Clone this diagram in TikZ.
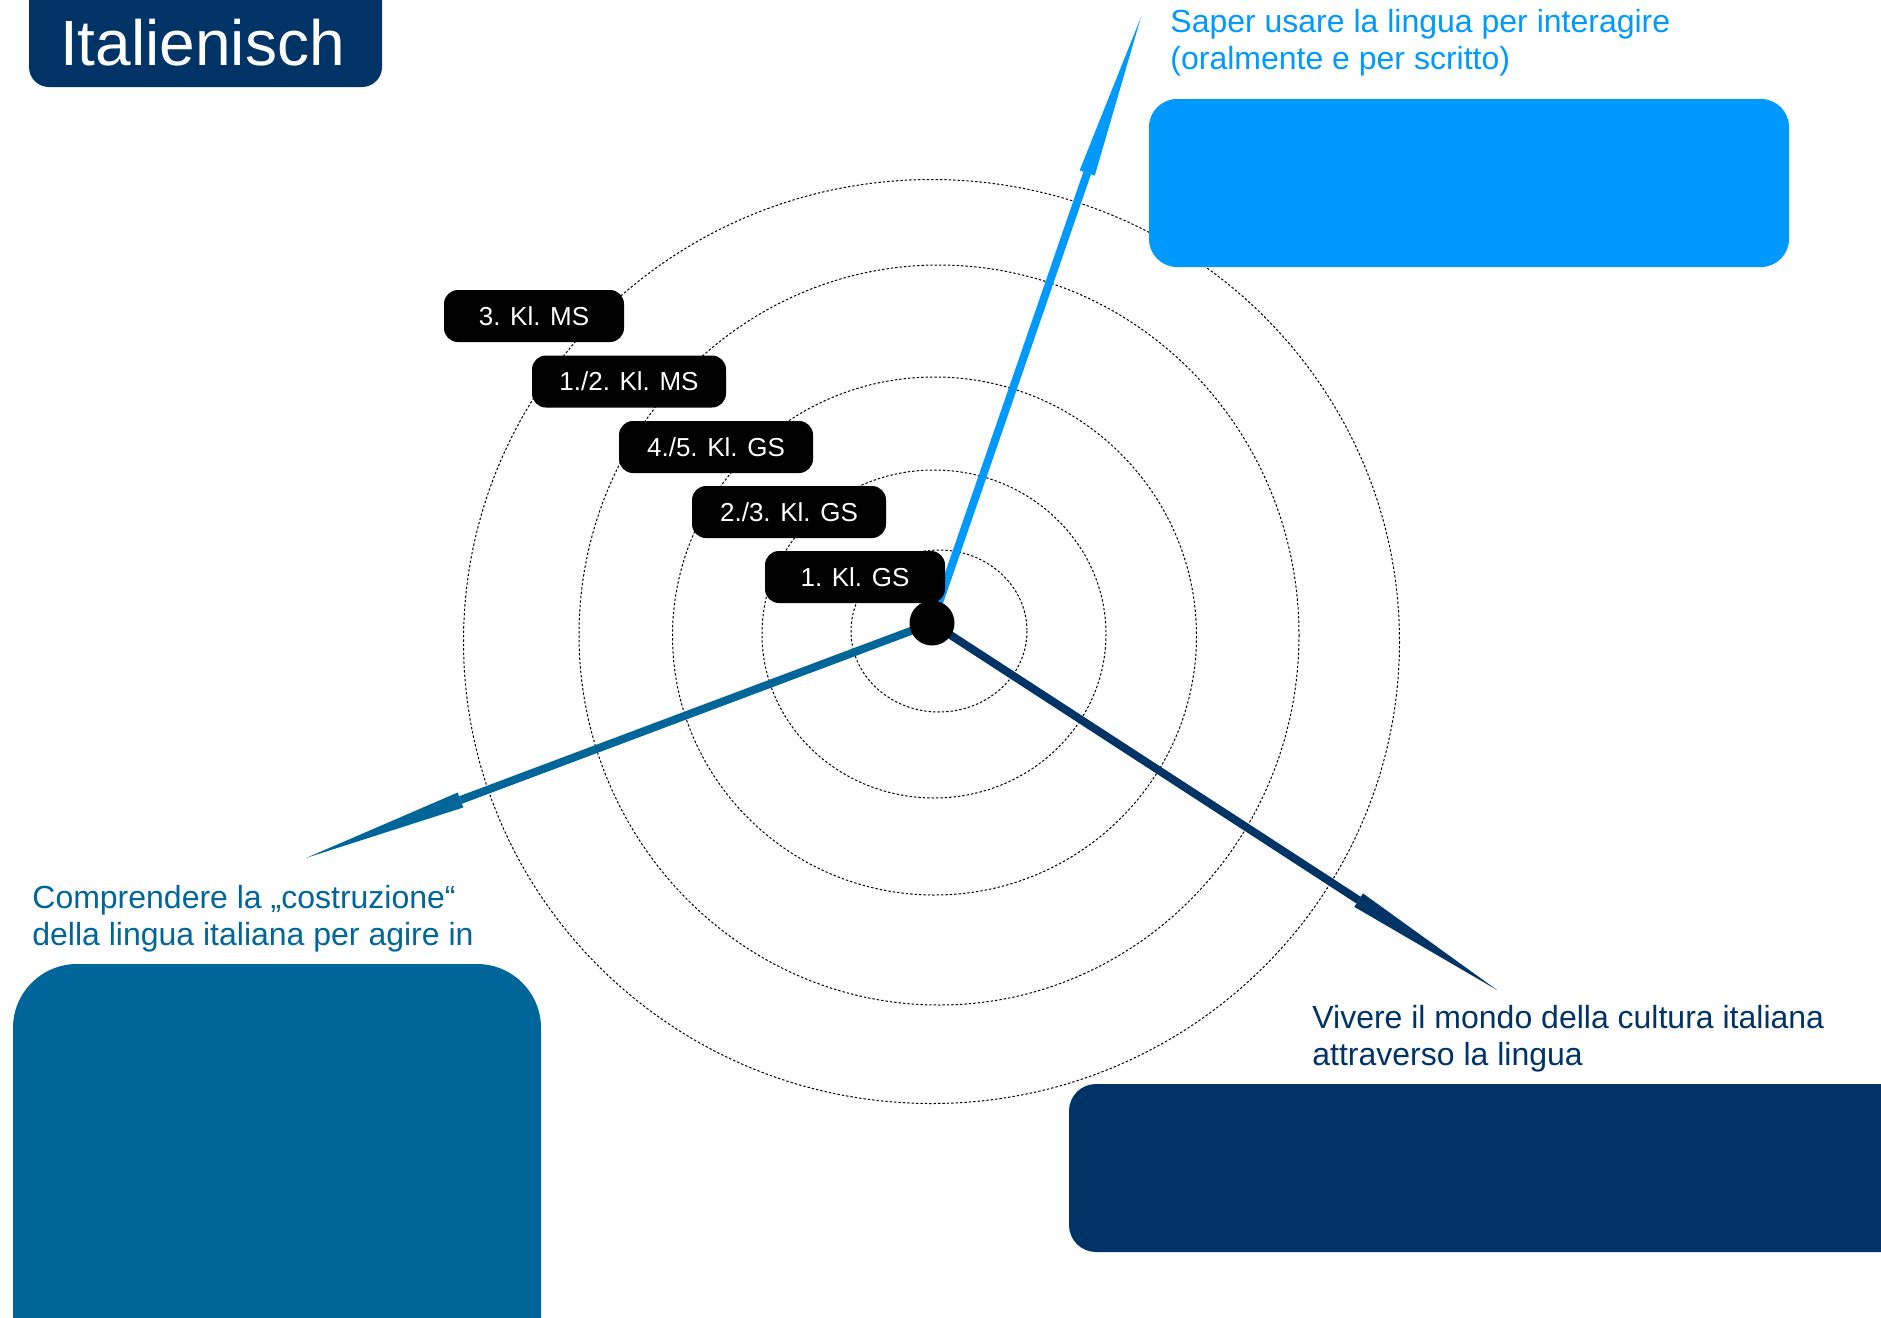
\documentclass[tikz,border=0pt]{standalone}
\usepackage{fontspec}
\setmainfont{Liberation Sans}
\usetikzlibrary{calc}
\definecolor{lblue}{HTML}{0099FF}
\definecolor{tealb}{HTML}{006699}
\definecolor{navyb}{HTML}{003366}
\begin{document}
\begin{tikzpicture}[x=0.5pt,y=-0.5pt,
  ring/.style={draw=black, line width=0.5pt, dash pattern=on 1.2pt off 1pt},
  panel/.style={rectangle, inner sep=0pt},
  level/.style={rectangle, fill=black, text=white, rounded corners=7pt,
    minimum height=26pt, inner sep=0pt, text depth=0pt,
    font=\fontsize{13}{15}\selectfont},
  lbl/.style={inner sep=0pt, align=left, anchor=base west,
    font=\fontsize{16}{18.5}\selectfont},
  shaft/.style={line width=4pt}
]
\useasboundingbox (0,0) rectangle (1881,1318);
\clip (0,0) rectangle (1881,1318);

% concentric rings
\draw[ring] (939,631) ellipse [x radius=88, y radius=81];
\draw[ring] (934,634) ellipse [x radius=172, y radius=164];
\draw[ring] (934.5,636) ellipse [x radius=262, y radius=259];
\draw[ring] (939,635) ellipse [x radius=360, y radius=370];
\draw[ring] (931.5,641.5) ellipse [x radius=468, y radius=462];

% title
\node[panel, fill=navyb, rounded corners=10pt, minimum width=176.5pt, minimum height=63.5pt] (titlebox) at (205.5,23.5) {};
\node[inner sep=0pt, anchor=base, text=white, font=\fontsize{32}{38}\selectfont] (title) at (202.5,65) {Italienisch};

% panels
\node[panel, fill=lblue, rounded corners=14pt, minimum width=320pt, minimum height=84pt] (boxA) at (1469,183) {};
\node[panel, fill=tealb, rounded corners=32pt, minimum width=264pt, minimum height=218pt] (boxB) at (277,1182) {};
\node[panel, fill=navyb, rounded corners=13.5pt, minimum width=440.5pt, minimum height=84pt] (boxC) at (1509.5,1168) {};

% labels (anchor = baseline of the last line)
\node[lbl, text=lblue] (txtA) at (1170,69) {Saper usare la lingua per interagire\\(oralmente e per scritto)};
\node[lbl, text=tealb] (txtB) at (32,945) {Comprendere la „costruzione“\\della lingua italiana per agire in};
\node[lbl, text=navyb] (txtC) at (1312,1065) {Vivere il mondo della cultura italiana\\attraverso la lingua};

% hub
\coordinate (hubc) at (932,623);
\coordinate (tipA) at (1141,17);
\coordinate (tipB) at (306,858);
\coordinate (tipC) at (1497,990);
\coordinate (baseA) at ($(tipA)!82.5pt!(hubc)$);
\coordinate (baseB) at ($(tipB)!82.5pt!(hubc)$);
\coordinate (baseC) at ($(tipC)!82.5pt!(hubc)$);

\draw[shaft, lblue] (hubc) -- (baseA);
\fill[lblue] ($(baseA)!4pt!90:(tipA)$) -- (tipA) -- ($(baseA)!4pt!-90:(tipA)$) -- cycle;
\draw[shaft, tealb] (hubc) -- (baseB);
\fill[tealb] ($(baseB)!4pt!90:(tipB)$) -- (tipB) -- ($(baseB)!4pt!-90:(tipB)$) -- cycle;
\draw[shaft, navyb] (hubc) -- (baseC);
\fill[navyb] ($(baseC)!4pt!90:(tipC)$) -- (tipC) -- ($(baseC)!4pt!-90:(tipC)$) -- cycle;

% level tags
\node[level, minimum width=90pt] (l5) at (534,316) {3. Kl. MS};
\node[level, minimum width=97pt] (l4) at (629,381.5) {1./2. Kl. MS};
\node[level, minimum width=97pt] (l3) at (716,447) {4./5. Kl. GS};
\node[level, minimum width=97pt] (l2) at (789,512) {2./3. Kl. GS};
\node[level, minimum width=90pt] (l1) at (855,577) {1. Kl. GS};

\node[circle, fill=black, minimum size=22.5pt, inner sep=0pt] (hub) at (hubc) {};
\end{tikzpicture}
\end{document}
